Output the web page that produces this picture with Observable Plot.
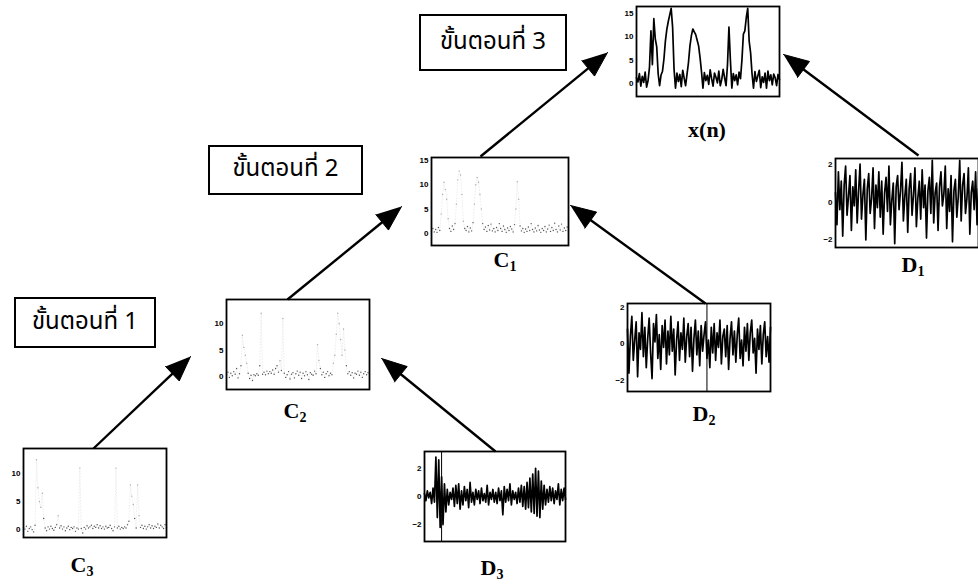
<!DOCTYPE html>
<html><head><meta charset="utf-8">
<script src="https://cdn.jsdelivr.net/npm/d3@7"></script>
<script src="https://cdn.jsdelivr.net/npm/@observablehq/plot@0.6"></script>
<style>
body{margin:0;background:#fff;}
#wrap{position:relative;width:978px;height:585px;overflow:hidden;background:#fff;}
.lbl{position:absolute;font-family:"Liberation Serif","Times New Roman",serif;font-weight:bold;font-size:22px;line-height:1;transform:translate(-50%,-50%);white-space:nowrap;}
.lbl sub{font-size:14px;vertical-align:-4px;}
.box{position:absolute;border:2px solid #000;box-sizing:border-box;display:flex;align-items:center;justify-content:center;font-family:"Noto Sans Thai","Tahoma","DejaVu Sans",sans-serif;font-size:24px;padding-bottom:2px;}
</style></head>
<body><div id="wrap"></div>
<script>
// ---- signal data ----
const xn = [1.2,0.3,2.1,-0.6,1.5,0.2,2.4,-0.8,0.6,3.5,11.2,4.0,13.8,9.5,7.8,2.0,-0.5,1.8,2.6,5.2,9.0,11.5,13.2,14.6,16.0,12.0,3.0,-1.0,2.2,0.4,1.9,-0.7,2.8,1.1,-0.5,2.0,4.5,8.0,10.2,11.6,11.0,10.4,9.2,8.0,5.5,2.5,-1.0,2.3,0.6,1.7,-0.2,2.9,1.0,-0.6,2.2,1.3,0.1,2.6,-0.5,0.8,3.0,1.2,-0.5,4.0,12.0,5.0,-1.0,2.1,0.6,1.8,-0.3,2.4,1.0,5.0,10.5,11.2,14.0,16.0,9.0,6.5,2.0,-1.0,2.5,0.4,1.6,2.8,-0.9,1.4,0.2,2.2,-1.0,2.6,0.6,1.8,-0.3,2.0,1.2,-0.5,1.9,0.8];
const c1 = [0.5,1.0,0.3,0.8,0.2,1.2,0.6,4.0,8.0,10.5,9.0,7.0,3.0,1.0,0.4,1.5,0.8,2.0,6.0,11.0,12.8,12.0,8.0,2.5,1.0,0.6,1.4,0.3,1.1,0.5,2.2,6.0,10.0,11.5,10.5,8.0,5.0,2.0,0.8,1.3,0.4,1.6,0.7,1.9,0.5,1.0,0.3,1.2,0.6,2.0,1.0,0.4,1.5,0.8,0.2,1.1,0.6,1.4,0.9,0.3,1.8,5.0,10.6,7.0,1.5,0.5,1.0,0.2,0.9,0.4,1.3,0.6,2.0,0.8,0.3,1.1,0.5,1.6,0.7,0.2,1.0,0.6,1.4,0.3,0.9,1.7,0.4,1.2,0.6,2.1,0.8,0.3,1.5,0.7,1.9,0.4,1.1,0.6,1.3,0.5];
const c2 = [0.3,0.8,-0.2,0.6,0.1,0.9,0.4,1.5,-0.3,0.5,2.0,7.8,5.5,4.0,2.5,0.6,-0.4,0.2,-0.8,0.3,0.1,0.5,0.2,2.0,12.0,0.4,0.8,0.3,1.0,0.5,0.9,0.6,1.2,0.4,1.5,2.0,0.8,3.0,1.1,11.0,0.6,-0.2,0.3,0.9,-0.5,0.4,0.7,-0.3,0.5,1.0,0.2,0.8,-0.4,0.6,0.1,0.9,0.3,-0.6,0.7,0.4,0.2,1.0,0.5,6.0,3.0,1.5,0.3,0.8,-0.2,0.5,0.9,0.1,0.6,0.3,2.5,4.0,8.0,12.0,10.0,7.0,4.0,9.0,5.0,2.0,0.5,0.9,0.2,0.7,-0.3,0.6,0.4,1.0,0.2,0.8,-0.2,0.5,0.9,0.3,0.7,0.4];
const c3 = [0.4,0.1,0.6,-0.3,0.2,0.5,0.0,-0.4,0.8,12.5,7.5,5.0,4.0,6.5,2.0,0.3,-0.2,0.5,0.1,0.6,0.2,-0.1,0.4,0.9,2.5,0.3,0.7,0.1,0.5,-0.2,0.3,0.6,0.0,0.4,0.2,0.5,-0.3,0.3,0.1,11.0,0.2,-0.6,0.4,0.1,0.7,0.3,0.5,0.8,0.2,0.6,0.4,0.9,0.3,0.7,0.2,0.5,0.1,0.6,0.3,0.4,0.8,0.2,-0.2,0.5,11.0,0.3,0.6,0.1,0.4,0.2,0.5,0.3,0.9,1.5,8.0,6.0,4.5,2.0,0.3,8.0,2.5,0.4,0.8,0.2,0.6,0.1,0.5,0.9,0.3,0.7,0.2,0.6,0.4,1.0,0.3,0.8,0.5,0.2,0.9,0.4];
const d1 = [0.5,-1.2,1.6,-0.4,1.1,-1.8,0.9,1.9,-0.7,0.3,1.4,-1.5,0.8,-0.2,1.7,-1.1,0.6,2.0,-0.9,0.4,1.2,-2.0,0.7,1.5,-0.6,0.2,1.8,-1.4,0.9,-0.3,1.6,-0.8,1.1,-1.7,0.5,1.3,-0.5,1.9,-1.2,0.1,1.0,-2.2,0.8,1.4,-0.4,0.6,2.1,-1.0,0.3,1.2,-1.6,0.7,1.5,-0.7,0.4,1.8,-1.3,0.2,1.1,-0.9,1.7,-0.3,0.9,-1.9,0.6,1.3,-0.6,2.2,-1.1,0.5,1.0,-1.5,0.8,1.6,-0.2,0.4,1.9,-1.4,0.7,-0.5,1.4,-2.1,0.6,1.2,-0.8,0.3,2.2,-1.0,0.9,1.5,-0.6,0.2,1.8,-1.7,0.5,1.1,-0.4,1.6,-1.2,0.7];
const d2 = [0.8,-1.6,0.4,1.5,-0.9,0.2,1.2,-1.8,0.6,-0.3,1.7,-0.7,0.9,-1.3,0.3,1.4,-0.5,-1.9,1.1,0.1,1.6,-0.8,0.5,-1.4,1.0,-0.2,1.3,-1.1,0.7,-0.6,1.5,-0.4,0.8,-1.7,0.2,1.2,-0.9,0.6,-0.3,1.4,-1.0,0.4,1.1,-0.7,0.9,-1.5,0.3,1.3,-0.6,0.7,-1.2,1.0,-0.4,0.5,1.2,-0.8,0.2,-1.3,0.9,-0.5,1.1,-0.9,0.6,-0.2,1.3,-1.1,0.4,0.8,-0.7,1.0,-1.4,0.3,1.2,-0.6,0.7,-1.0,0.5,1.4,-0.8,0.2,-1.2,0.9,-0.4,1.1,-0.9,0.6,1.3,-0.5,0.3,-1.6,0.8,-0.3,1.0,-1.1,0.5,1.2,-0.7,0.4,-1.0,0.9];
const d3s = [0.2,-0.3,0.4,-0.1,0.3,-0.5,0.6,-0.4,2.8,-1.5,2.6,-2.2,1.4,-2.0,0.9,-1.1,0.5,-0.6,0.3,-0.2,0.6,-0.7,0.8,-0.5,0.9,-0.9,0.4,-0.6,0.7,-0.3,0.5,-0.8,1.0,-0.4,0.3,-0.6,0.5,-0.2,0.4,-0.5,0.6,-0.3,0.2,-0.4,0.8,-0.6,0.3,-0.2,0.5,-0.4,0.3,-0.5,0.6,-0.3,0.4,-1.3,0.7,-0.4,0.5,-0.3,0.9,-0.6,0.4,-0.2,0.3,-0.5,0.6,-0.4,0.8,-0.7,0.7,-0.9,1.0,-0.8,1.3,-1.1,1.6,-1.2,2.0,-1.4,1.8,-1.5,1.1,-0.9,0.8,-0.6,0.5,-0.4,0.7,-0.3,0.6,-0.5,0.4,-0.2,0.9,-0.6,0.5,-0.3,0.6,-0.2];
// full-height strokes seen in some panels (sample index)
const d2Rules = [55];
const d3Rules = [12];
// tick labels
const cTicks15 = [0, 5, 10, 15];
const cTicks10 = [0, 5, 10];
const dTicks = [-2, 0, 2];
// text
const stepLabels = ["ขั้นตอนที่ 1", "ขั้นตอนที่ 2", "ขั้นตอนที่ 3"];

// ---- layout ----
const wrap = document.getElementById("wrap");
const ML = 16;

const arrowLayout = [
  {id:"a1", sx:93,  sy:448, tx:190, ty:356},
  {id:"a2", sx:287, sy:299, tx:401, ty:206},
  {id:"a3", sx:480, sy:156, tx:607, ty:52},
  {id:"a4", sx:918, sy:155, tx:783, ty:54},
  {id:"a5", sx:705, sy:303, tx:570, ty:205},
  {id:"a6", sx:495, sy:451, tx:381, ty:358}
];
const HL = 25, HW = 10;
const links = [], heads = [];
for (const a of arrowLayout) {
  const dx = a.tx - a.sx, dy = a.ty - a.sy, len = Math.hypot(dx, dy);
  const ux = dx/len, uy = dy/len, nx = -uy, ny = ux;
  const bx = a.tx - HL*ux, by = a.ty - HL*uy;
  links.push({x1:a.sx, y1:a.sy, x2:bx + 2*ux, y2:by + 2*uy});
  heads.push({id:a.id, x:a.tx, y:a.ty});
  heads.push({id:a.id, x:bx + HW*nx, y:by + HW*ny});
  heads.push({id:a.id, x:bx - HW*nx, y:by - HW*ny});
}
const boxLayout = [
  {x1:14,  x2:156, y1:297, y2:348},
  {x1:208, x2:363, y1:145, y2:195},
  {x1:419, x2:567, y1:14,  y2:71}
];

const overlay = Plot.plot({
  width:978, height:585, margin:0,
  style:{background:"transparent"},
  x:{domain:[0,978], range:[0,978], axis:null},
  y:{domain:[0,585], range:[0,585], axis:null},
  marks:[
    Plot.link(links, {x1:"x1", y1:"y1", x2:"x2", y2:"y2", stroke:"#000", strokeWidth:2.4}),
    Plot.line(heads, {x:"x", y:"y", z:"id", fill:"#000", stroke:"#000", strokeWidth:1, strokeLinejoin:"miter"})
  ]
});
overlay.style.position = "absolute"; overlay.style.left = "0px"; overlay.style.top = "0px";
wrap.appendChild(overlay);

boxLayout.forEach((b, i) => {
  const d = document.createElement("div");
  d.className = "box";
  d.style.left = b.x1 + "px"; d.style.top = b.y1 + "px";
  d.style.width = (b.x2 - b.x1) + "px"; d.style.height = (b.y2 - b.y1) + "px";
  d.textContent = stepLabels[i];
  wrap.appendChild(d);
});

const panels = [
  {data:xn,  L:636, T:6,   W:143, H:90, dom:[-2.8,16.4], ticks:cTicks15, kind:"dense", label:["x(n)",""], lx:707, ly:130},
  {data:c1,  L:431, T:157, W:137, H:88, dom:[-2.5,15.6], ticks:cTicks15, kind:"faint", label:["C","1"], lx:505, ly:261},
  {data:c2,  L:226, T:299, W:143, H:90, dom:[-2.5,14.6], ticks:cTicks10, kind:"faint", label:["C","2"], lx:295, ly:412},
  {data:c3,  L:23,  T:448, W:143, H:89, dom:[-1.4,14.5], ticks:cTicks10, kind:"faint", label:["C","3"], lx:82,  ly:566},
  {data:d1,  L:835, T:158, W:143, H:89, dom:[-2.4,2.3],  ticks:dTicks,   kind:"dense", label:["D","1"], lx:913, ly:266},
  {data:d2,  L:627, T:303, W:143, H:88, dom:[-2.6,2.2],  ticks:dTicks,   kind:"dense", label:["D","2"], lx:704, ly:415, rules:d2Rules},
  {data:d3s, L:424, T:451, W:141, H:90, dom:[-3.2,3.2],  ticks:dTicks,   kind:"dense", label:["D","3"], lx:492, ly:569, rules:d3Rules}
];

for (const p of panels) {
  const n = p.data.length;
  const marks = [];
  if (p.kind === "dense") {
    marks.push(Plot.lineY(p.data, {x:(d,i)=>i, y:d=>d, stroke:"#000", strokeWidth:1.7}));
  } else {
    marks.push(Plot.lineY(p.data, {x:(d,i)=>i, y:d=>d, stroke:"#e2e2e2", strokeWidth:0.6, strokeDasharray:"1,2"}));
    marks.push(Plot.dot(p.data, {x:(d,i)=>i, y:d=>d, r:0.7, fill:d => d < 2.5 ? "#555" : "#aaa", stroke:null}));
  }
  if (p.rules) marks.push(Plot.ruleX(p.rules, {stroke:"#000", strokeWidth:1}));
  marks.push(Plot.frame({stroke:"#000", strokeWidth:1.8}));
  marks.push(Plot.axisY(p.ticks, {tickSize:0, tickPadding:3, fontSize:8, fontWeight:"bold", fontFamily:"Liberation Sans, Arial, sans-serif", label:null}));
  const svg = Plot.plot({
    width: p.W + ML + 1, height: p.H + 2,
    marginLeft: ML, marginRight: 1, marginTop: 1, marginBottom: 1,
    style:{background:"transparent", overflow:"visible"},
    x:{domain:[0, n-1], axis:null},
    y:{domain:p.dom, axis:null},
    marks
  });
  svg.style.position = "absolute";
  svg.style.left = (p.L - ML) + "px";
  svg.style.top = (p.T - 1) + "px";
  wrap.appendChild(svg);
  const lab = document.createElement("div");
  lab.className = "lbl";
  lab.style.left = p.lx + "px"; lab.style.top = p.ly + "px";
  lab.innerHTML = p.label[0] + (p.label[1] ? "<sub>" + p.label[1] + "</sub>" : "");
  wrap.appendChild(lab);
}
</script>
</body></html>
